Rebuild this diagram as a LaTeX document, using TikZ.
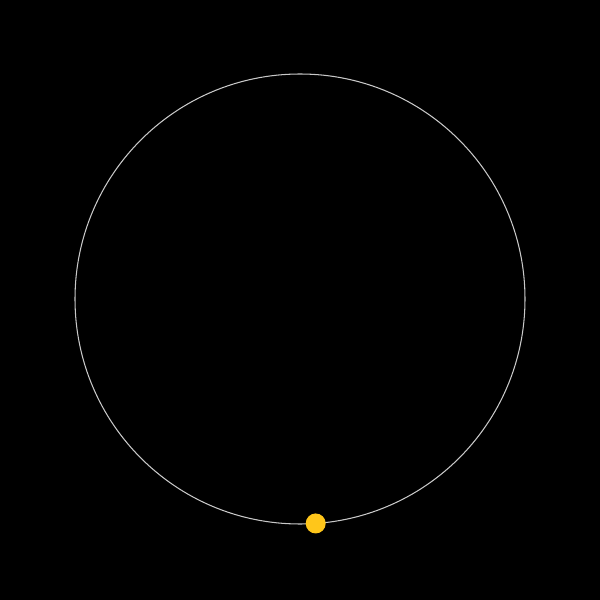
\documentclass[tikz,border=0pt]{standalone}
\usepackage{xcolor}
\usepackage{tikz}
\definecolor{orbitgray}{RGB}{200,200,200}
\definecolor{sunyellow}{RGB}{255,198,26}
\tikzset{
  orbit/.style={draw=orbitgray,line width=0.3pt,circle,minimum size=4.5cm,inner sep=0pt,outer sep=0pt},
  body/.style={fill=sunyellow,circle,minimum size=0.2cm,inner sep=0pt}}
\begin{document}
\begin{tikzpicture}
  \fill[black] (0,0) rectangle (6,6);
  \useasboundingbox (0,0) rectangle (6,6);
  \node[orbit] (ring) at (3,3.01) {};
  \node[body] (planet) at (ring.-86.6) {};
\end{tikzpicture}
\end{document}
